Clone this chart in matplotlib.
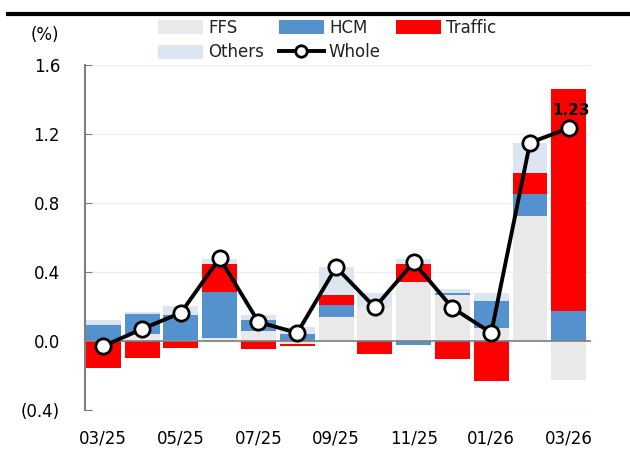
import numpy as np
import matplotlib
matplotlib.use("Agg")
import matplotlib.pyplot as plt
from matplotlib.lines import Line2D

months = ['03/25', '04/25', '05/25', '06/25', '07/25', '08/25', '09/25',
          '10/25', '11/25', '12/25', '01/26', '02/26', '03/26']
ffs = [0.005, 0.042, 0.005, 0.018, 0.057, -0.015, 0.138, 0.198, 0.34, 0.265, 0.076, 0.722, -0.223]
hcm = [0.086, 0.113, 0.144, 0.266, 0.067, 0.038, 0.073, 0.0, -0.024, 0.014, 0.154, 0.131, 0.176]
traffic = [-0.155, -0.101, -0.043, 0.162, -0.045, -0.012, 0.058, -0.078, 0.108, -0.107, -0.232, 0.119, 1.284]
others = [0.033, 0.014, 0.056, 0.031, 0.029, 0.042, 0.158, 0.081, 0.029, 0.023, 0.049, 0.174, -0.005]
whole = [-0.03, 0.07, 0.163, 0.48, 0.11, 0.047, 0.427, 0.195, 0.456, 0.192, 0.047, 1.149, 1.232]

series = [('FFS', ffs, '#E9E9E9'), ('HCM', hcm, '#5591CD'),
          ('Traffic', traffic, '#FF0000'), ('Others', others, '#DCE6F2')]

fig = plt.figure(figsize=(6.3, 4.66), dpi=100)
ax = fig.add_axes([0.135, 0.12, 0.803, 0.741])

x = np.arange(len(months))
pos = np.zeros(len(months))
neg = np.zeros(len(months))
handles = {}
for name, vals, col in series:
    v = np.array(vals)
    bottom = np.where(v >= 0, pos, neg)
    b = ax.bar(x, v, 0.9, bottom=bottom, color=col, zorder=2, label=name)
    handles[name] = b
    pos = pos + np.where(v >= 0, v, 0)
    neg = neg + np.where(v < 0, v, 0)

ln, = ax.plot(x, whole, color='black', lw=2.8, marker='o', ms=11,
              mfc='white', mec='black', mew=2, zorder=4, label='Whole')
ax.text(x[-1] + 0.05, whole[-1] + 0.06, f'{whole[-1]:.2f}', ha='center', va='bottom',
        fontsize=11, fontweight='bold', zorder=5)

ax.axhline(0, color='#7F7F7F', lw=1.2, zorder=3)
ax.set_ylim(-0.4, 1.6)
ax.set_xlim(-0.47, 12.57)
yt = [-0.4, 0.0, 0.4, 0.8, 1.2, 1.6]
ax.set_yticks(yt)
ax.set_yticklabels([f'({abs(t):.1f})' if t < 0 else f'{t:.1f}' for t in yt], fontsize=12)
ax.set_xticks(x[::2])
ax.set_xticklabels(months[::2], fontsize=12)
ax.tick_params(axis='x', length=0, pad=14)
ax.tick_params(axis='y', direction='in', length=5, color='#7F7F7F', pad=18)
ax.grid(axis='y', color='#EEEEEE', lw=1, zorder=0)
for s in ['top', 'right', 'bottom']:
    ax.spines[s].set_visible(False)
ax.spines['left'].set_color('#7F7F7F')
ax.spines['left'].set_linewidth(1.5)

fig.text(0.072, 0.925, '(%)', fontsize=12, ha='center', va='center')
fig.add_artist(Line2D([0.013, 1.0], [0.97, 0.97], color='black', lw=3))

# column-major order so rows read FFS/HCM/Traffic then Others/Whole
leg = fig.legend([handles['FFS'], handles['Others'], handles['HCM'], ln, handles['Traffic']],
                 ['FFS', 'Others', 'HCM', 'Whole', 'Traffic'],
                 ncol=3, loc='upper left', bbox_to_anchor=(0.227, 0.992),
                 frameon=False, fontsize=12, handlelength=2.7, handleheight=0.9,
                 handletextpad=0.3, columnspacing=0.9, labelspacing=0.4,
                 markerscale=0.75)
for t in leg.get_texts():
    t.set_color('#222222')

fig.savefig('out.png', dpi=100)
